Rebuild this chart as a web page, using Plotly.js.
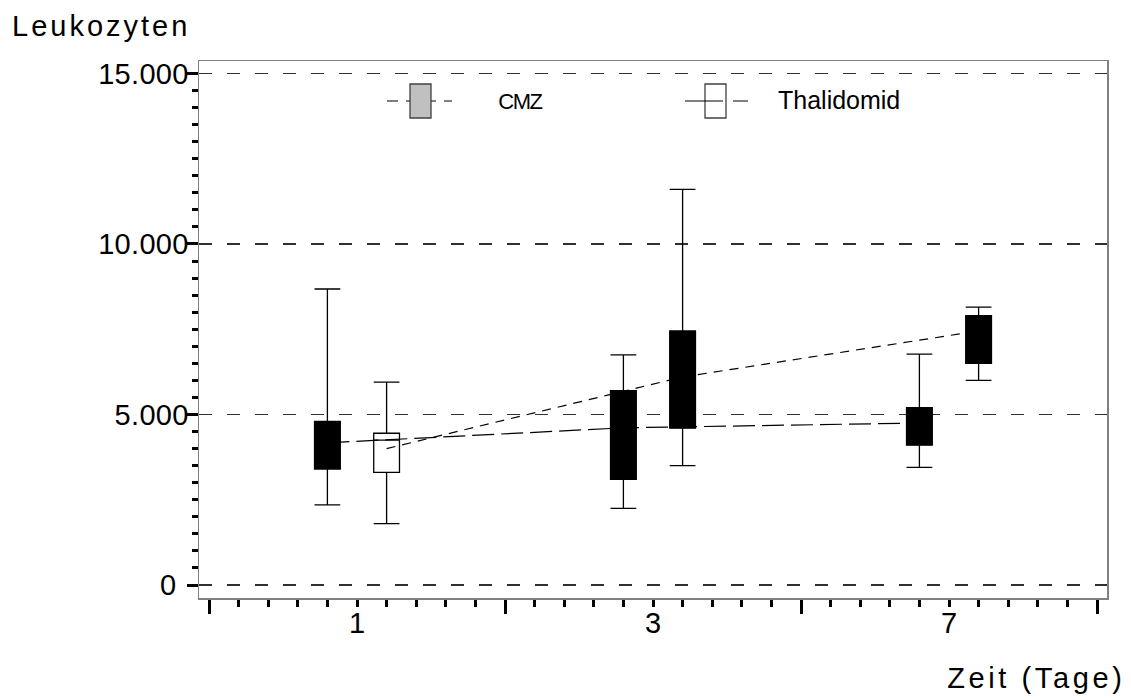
<!DOCTYPE html>
<html>
<head>
<meta charset="utf-8">
<script src="https://cdn.plot.ly/plotly-3.0.1.min.js"></script>
<style>
  html, body { margin: 0; padding: 0; background: #fff; }
  #chart { width: 1131px; height: 700px; }
  .ytick text { letter-spacing: 0.3px; }
  .annotation[data-index="0"] text { letter-spacing: 3px; }
  .annotation[data-index="1"] text { letter-spacing: 3.6px; }
  .annotation[data-index="2"] text { letter-spacing: -1.5px; }
</style>
</head>
<body>
<div id="chart"></div>
<script>
// ---- data ----
const days = ['1', '3', '7'];

// left boxes of every day, long-dashed connecting line
const thalName = 'Thalidomid';
const thalLowWhisker = [2350, 2250, 3450];
const thalQ1 = [3400, 3100, 4100];
const thalMedian = [4170, 4610, 4750];
const thalQ3 = [4800, 5700, 5200];
const thalHighWhisker = [8680, 6750, 6770];
const thalLine = [4170, 4610, 4750];

// right boxes of every day, short-dashed connecting line
const cmzName = 'CMZ';
const cmzLowWhisker = [1800, 3500, 6000];
const cmzQ1 = [3300, 4600, 6500];
const cmzMedian = [4250, 6100, 7450];
const cmzQ3 = [4450, 7450, 7900];
const cmzHighWhisker = [5950, 11600, 8150];
const cmzLine = [4000, 6100, 7450];

const yTickVals = [0, 5000, 10000, 15000];
const yTickText = ['0\u2009\u2009', '5.000', '10.000', '15.000'];

// ---- geometry / style ----
const FONT = 'Arial, "Liberation Sans", sans-serif';
const W = 1131, H = 700;
const M = { l: 199, r: 24, t: 61, b: 102 };
const plotW = W - M.l - M.r, plotH = H - M.t - M.b;
const px = x => (x - M.l) / plotW;       // pixel -> paper (decoration only)
const py = y => (H - M.b - y) / plotH;

const offset = 0.1, boxW = 0.087;
const centers = days.map((d, i) => i + 0.5);

const traces = [];
function addBoxes(name, lo, q1, med, q3, hi, side, whiteFirst) {
  days.forEach((d, i) => {
    const white = whiteFirst && i === 0;
    traces.push({
      type: 'box', name: name, showlegend: false, hoverinfo: 'skip',
      x: [centers[i] + side * offset],
      lowerfence: [lo[i]], q1: [q1[i]], median: [med[i]], q3: [q3[i]], upperfence: [hi[i]],
      boxpoints: false, width: boxW, whiskerwidth: 1,
      fillcolor: white ? '#ffffff' : '#000000',
      line: { color: '#000000', width: 1.3 }
    });
  });
}
addBoxes(thalName, thalLowWhisker, thalQ1, thalMedian, thalQ3, thalHighWhisker, -1, false);
addBoxes(cmzName, cmzLowWhisker, cmzQ1, cmzMedian, cmzQ3, cmzHighWhisker, 1, true);

traces.push({
  type: 'scatter', mode: 'lines', name: thalName, showlegend: false, hoverinfo: 'skip',
  x: centers.map(c => c - offset), y: thalLine,
  line: { color: '#000', width: 1.2, dash: '22px,7px' }
});
traces.push({
  type: 'scatter', mode: 'lines', name: cmzName, showlegend: false, hoverinfo: 'skip',
  x: centers.map(c => c + offset), y: cmzLine,
  line: { color: '#000', width: 1.2, dash: '9px,7px' }
});

// legend drawn as decoration
const shapes = [
  { type: 'line', xref: 'paper', yref: 'paper', x0: px(387), x1: px(452), y0: py(101), y1: py(101),
    line: { color: '#000', width: 1.2, dash: '11px,8px' } },
  { type: 'rect', xref: 'paper', yref: 'paper', x0: px(410), x1: px(431), y0: py(118), y1: py(84),
    fillcolor: '#c0c0c0', line: { color: '#404040', width: 1.3 } },
  { type: 'rect', xref: 'paper', yref: 'paper', x0: px(705), x1: px(726), y0: py(118), y1: py(84),
    fillcolor: '#ffffff', line: { color: '#404040', width: 1.3 } },
  { type: 'line', xref: 'paper', yref: 'paper', x0: px(685), x1: px(748), y0: py(101), y1: py(101),
    line: { color: '#000', width: 1.2, dash: '38px,10px' } }
];

const annotations = [
  { text: 'Leukozyten', xref: 'paper', yref: 'paper', x: px(101), y: py(26), xanchor: 'center', yanchor: 'middle',
    showarrow: false, font: { family: FONT, size: 29, color: '#000' } },
  { text: 'Zeit (Tage)', xref: 'paper', yref: 'paper', x: px(1036), y: py(678), xanchor: 'center', yanchor: 'middle',
    showarrow: false, font: { family: FONT, size: 29, color: '#000' } },
  { text: cmzName, xref: 'paper', yref: 'paper', x: px(520), y: py(101), xanchor: 'center', yanchor: 'middle',
    showarrow: false, font: { family: FONT, size: 22, color: '#000' } },
  { text: thalName, xref: 'paper', yref: 'paper', x: px(776), y: py(100), xanchor: 'left', yanchor: 'middle',
    showarrow: false, font: { family: FONT, size: 25, color: '#000' } }
];
days.forEach((d, i) => annotations.push({
  text: d, xref: 'x', yref: 'paper', x: centers[i], y: py(623), xanchor: 'center', yanchor: 'middle',
  showarrow: false, font: { family: FONT, size: 29, color: '#000' }
}));

const layout = {
  width: W, height: H,
  margin: M,
  paper_bgcolor: '#fff', plot_bgcolor: '#fff',
  showlegend: false, hovermode: false,
  boxmode: 'overlay',
  separators: ',.',
  font: { family: FONT, color: '#000' },
  xaxis: {
    range: [(M.l - 209) / 296, (W - M.r - 209) / 296],
    tickmode: 'linear', tick0: 0, dtick: 1,
    ticks: 'outside', ticklen: 14, tickwidth: 3, tickcolor: '#000',
    showticklabels: false,
    minor: { tick0: 0, dtick: 0.1, ticks: 'outside', ticklen: 7, tickwidth: 3, tickcolor: '#000', showgrid: false },
    showgrid: false, zeroline: false,
    showline: true, mirror: true, linecolor: '#808080', linewidth: 1.5
  },
  yaxis: {
    range: [-381, 15366],
    tickmode: 'array', tickvals: yTickVals, ticktext: yTickText,
    ticks: 'outside', ticklen: 11, tickwidth: 3, tickcolor: '#000',
    ticklabelstandoff: -8,
    tickfont: { family: FONT, size: 29, color: '#000' },
    minor: { tick0: 0, dtick: 500, ticks: 'outside', ticklen: 6, tickwidth: 3, tickcolor: '#000', showgrid: false },
    showgrid: true, gridcolor: '#303030', gridwidth: 1.2, griddash: '13px,15px',
    zeroline: false,
    showline: true, mirror: true, linecolor: '#808080', linewidth: 1.5
  },
  shapes: shapes,
  annotations: annotations
};

Plotly.newPlot('chart', traces, layout, { staticPlot: true, displayModeBar: false });
</script>
</body>
</html>
